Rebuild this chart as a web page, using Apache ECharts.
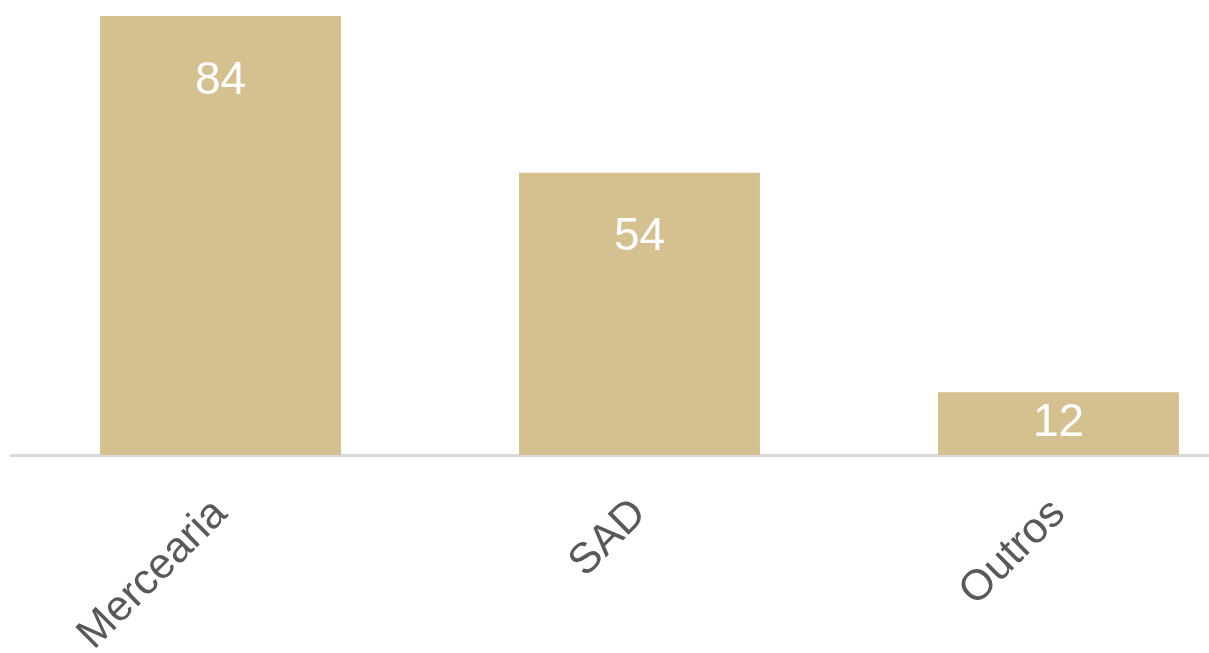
<!DOCTYPE html>
<html>
<head>
<meta charset="utf-8">
<script src="https://cdn.jsdelivr.net/npm/echarts@6/dist/echarts.min.js"></script>
<style>
  html, body { margin: 0; padding: 0; background: #fff; }
  #chart { width: 1209px; height: 653px; }
</style>
</head>
<body>
<div id="chart"></div>
<script>
// dados
var categories = ['Mercearia', 'SAD', 'Outros'];
var values = [84, 54, 12];

var myChart = echarts.init(document.getElementById('chart'));

// barras pequenas: rótulo centrado
var seriesData = values.map(function (v) {
  if (v < 20) {
    return { value: v, label: { position: 'inside' } };
  }
  return v;
});

var option = {
  animation: false,
  grid: {
    left: 11,
    width: 1257,
    top: 16,
    bottom: 198,
    outerBoundsMode: 'none'
  },
  xAxis: {
    type: 'category',
    data: categories,
    axisLine: { lineStyle: { color: '#d9d9d9', width: 3 } },
    axisTick: { show: false },
    axisLabel: {
      rotate: 45,
      margin: 52,
      color: '#595959',
      fontSize: 43,
      fontFamily: 'Liberation Sans'
    }
  },
  yAxis: {
    type: 'value',
    min: 0,
    max: 84,
    show: false,
    splitLine: { show: false }
  },
  series: [
    {
      type: 'bar',
      data: seriesData,
      barWidth: '57.5%',
      itemStyle: { color: '#d5c08f' },
      label: {
        show: true,
        position: 'insideTop',
        distance: 42,
        color: '#ffffff',
        fontSize: 46,
        fontFamily: 'Liberation Sans'
      }
    }
  ]
};

myChart.setOption(option);
window.onresize = function () {
  myChart.resize();
};
</script>
</body>
</html>
